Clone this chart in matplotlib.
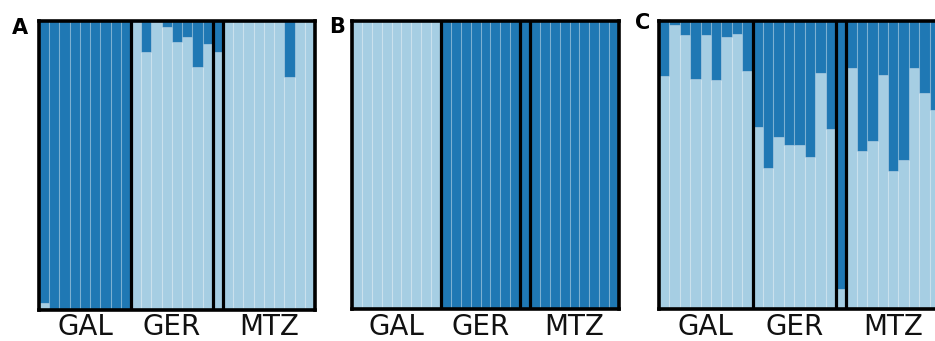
import matplotlib.pyplot as plt
import matplotlib.transforms as mtransforms
import numpy as np

# Population groups and how many individuals each has
groups = ['GAL', 'GER', '', 'MTZ']
group_sizes = [9, 8, 1, 9]
panel_letters = ['A', 'B', 'C']

# Ancestry proportion of the dark cluster for every individual (light = 1 - dark)
dark_A = [0.975, 1, 1, 1, 1, 1, 1, 1, 1,
          0, 0.107, 0.005, 0.02, 0.072, 0.056, 0.16, 0.08,
          0.108,
          0, 0, 0, 0, 0, 0, 0.193, 0, 0]
dark_B = [0, 0, 0, 0, 0, 0, 0, 0, 0,
          1, 1, 1, 1, 1, 1, 1, 1,
          1,
          1, 1, 1, 1, 1, 1, 0.995, 1, 1]
dark_C = [0.19, 0.015, 0.048, 0.20, 0.048, 0.205, 0.055, 0.045, 0.175,
          0.369, 0.512, 0.404, 0.429, 0.431, 0.472, 0.179, 0.374,
          0.93,
          0.164, 0.45, 0.418, 0.187, 0.52, 0.483, 0.164, 0.25, 0.308]

dark_color = '#1f78b4'
light_color = '#a6cee3'

W, H = 935, 341
fig = plt.figure(figsize=(W / 100, H / 100), dpi=100)

# axes boxes in pixels: left, right, top, bottom
boxes = [(39, 315, 21, 310), (352, 619, 21, 309), (659, 940, 21, 309)]
letter_pos = [(12, 34), (329, 33), (635, 29)]

for k, dark in enumerate([dark_A, dark_B, dark_C]):
    l, r, t, b = boxes[k]
    ax = fig.add_axes([l / W, 1 - b / H, (r - l) / W, (b - t) / H])
    dark = np.array(dark)
    x = np.arange(len(dark))
    light = 1 - dark
    ax.bar(x, light, width=1, color=light_color, edgecolor=(1, 1, 1, 0.18), linewidth=0.8)
    ax.bar(x, dark, bottom=light, width=1, color=dark_color, edgecolor=(1, 1, 1, 0.18), linewidth=0.8)
    ax.set_xlim(-0.5, len(dark) - 0.5)
    ax.set_ylim(0, 1)

    # group labels sit with their baseline ~25 px under the frame
    trans = mtransforms.blended_transform_factory(ax.transData, ax.transAxes)
    label_y = -(335 - b + 1) / (b - t) - 0.0
    start = 0
    for g, n in zip(groups, group_sizes):
        if g:
            ax.text(start + n / 2 - 0.5, -(335 - b) / (b - t), g, ha='center', va='baseline',
                    fontsize=20, color='#111111', transform=trans, clip_on=False)
        start += n
    # black separators between groups
    edges = np.cumsum(group_sizes)
    for e in edges[:-1]:
        ax.axvline(e - 0.5, color='black', linewidth=2.3)

    ax.set_xticks([])
    ax.set_yticks([])
    for s in ax.spines.values():
        s.set_linewidth(2.6)
        s.set_color('black')

    fig.text(letter_pos[k][0] / W, 1 - letter_pos[k][1] / H, panel_letters[k],
             fontsize=15, fontweight='bold', ha='left', va='baseline')

plt.savefig('out.png', dpi=100)
